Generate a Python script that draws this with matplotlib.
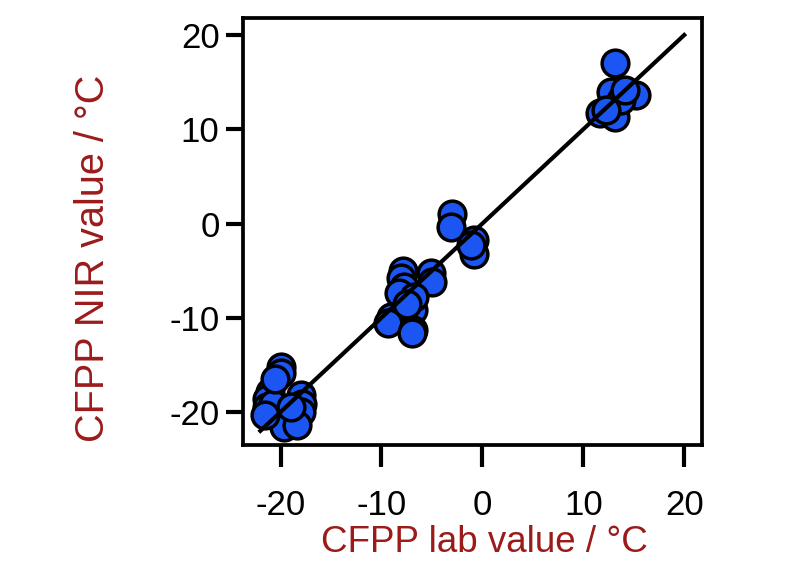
import matplotlib.pyplot as plt

plt.rcParams['font.family'] = ['Liberation Sans', 'DejaVu Sans']
plt.rcParams['axes.unicode_minus'] = False

# лабораторні значення CFPP
lab_x = [-20.0, -20.0, -21.0, -21.3, -18.0, -17.9, -18.0, -20.0, -19.7, -18.4,
         -21.3, -20.7, -19.0, -20.5, -21.5,
         -7.9, -8.1, -7.8, -8.3, -5.1, -5.0, -9.1, -9.4, -6.9, -6.9, -7.0, -6.8, -7.5,
         -3.0, -3.1, -0.8, -0.8, -1.1,
         13.1, 15.2, 12.7, 11.7, 13.1, 13.7, 14.1, 12.2]

# значення NIR
nir_y = [-15.2, -15.9, -17.9, -18.6, -18.2, -19.1, -20.0, -20.7, -21.6, -21.4,
         -19.5, -19.1, -19.5, -16.5, -20.3,
         -5.0, -5.8, -6.7, -7.4, -5.3, -6.2, -9.9, -10.6, -9.2, -11.3, -11.6, -7.8, -8.5,
         1.0, -0.4, -1.8, -3.2, -2.3,
         17.0, 13.6, 14.0, 11.7, 11.3, 13.1, 14.2, 12.0]

fit_x = [-22, 20]
ticks = [-20, -10, 0, 10, 20]

label_color = '#9b1b1b'
point_color = '#1b55f2'

fig = plt.figure(figsize=(8, 5.64), dpi=100)
ax = fig.add_axes([0.304, 0.211, 0.574, 0.757])

ax.scatter(lab_x, nir_y, s=370, c=point_color, edgecolors='black', linewidths=2.5, zorder=2)
ax.plot(fit_x, fit_x, color='black', lw=3, zorder=3)

ax.set_xlim(-23.7, 21.8)
ax.set_ylim(-23.5, 21.8)
ax.set_xticks(ticks)
ax.set_yticks(ticks)

for s in ax.spines.values():
    s.set_linewidth(2.7)

ax.tick_params(axis='both', direction='out', width=3, labelsize=25)
ax.tick_params(axis='x', length=16, pad=16)
ax.tick_params(axis='y', length=12, pad=5)

# підписи осей
fig.text(484 / 800, 1 - 543 / 564, 'CFPP lab value / °C', ha='center', va='center',
         fontsize=26.5, color=label_color)
fig.text(93 / 800, 1 - 258 / 564, 'CFPP NIR value / °C', ha='center', va='center',
         rotation=90, fontsize=28.5, color=label_color)

fig.savefig('out.png', dpi=100)
